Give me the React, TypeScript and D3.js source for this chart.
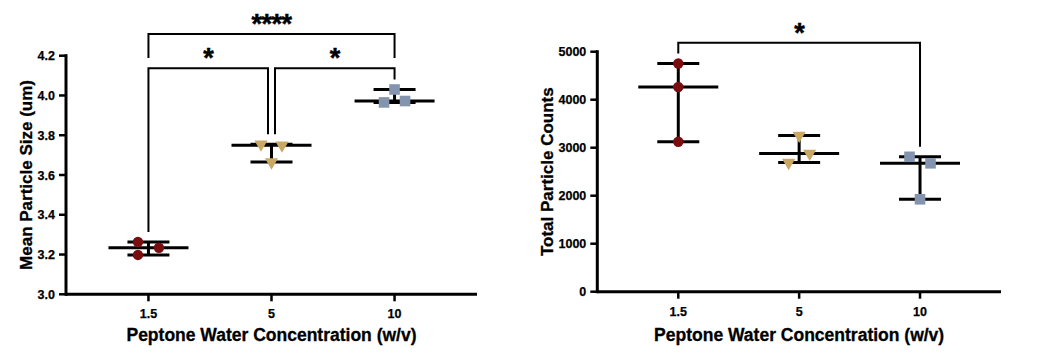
import React from "react";
import * as d3 from "d3";

// ---------- data ----------
const categories = ["1.5", "5", "10"];

// Mean particle size (um), three replicates per concentration
const sizeValues: number[][] = [
  [3.263, 3.198, 3.234],
  [3.755, 3.75, 3.665],
  [4.03, 3.965, 3.972],
];
// horizontal dodge of each replicate, in marker widths
const sizeDodge: number[][] = [
  [-1, -1, 1],
  [-1, 1, 0],
  [0, -1, 1],
];

// Total particle counts
const countValues: number[][] = [
  [4755, 4265, 3125],
  [3255, 2880, 2690],
  [2810, 2675, 1925],
];
const countDodge: number[][] = [
  [0, 0, 0],
  [0, 1, -1],
  [-1, 1, 0],
];

const sizeTicks = [3.0, 3.2, 3.4, 3.6, 3.8, 4.0, 4.2];
const countTicks = [0, 1000, 2000, 3000, 4000, 5000];

// significance comparisons: [from index, to index, label, tier]
const sizeComparisons: [number, number, string, number][] = [
  [0, 2, "****", 1],
  [0, 1, "*", 0],
  [1, 2, "*", 0],
];
const countComparisons: [number, number, string, number][] = [[0, 2, "*", 0]];

const groupColors = ["#7a0d0f", "#c9a864", "#8494ae"];
const groupShapes = ["circle", "triangle", "square"];

const FONT = "'Liberation Sans', Arial, sans-serif";

type PanelProps = {
  values: number[][];
  dodge: number[][];
  ticks: number[];
  yDomain: [number, number];
  tickFormat: (v: number) => string;
  comparisons: [number, number, string, number][];
  x0: number;
  x1: number;
  yTop: number;
  yBottom: number;
  yTitle: string;
  yTitleX: number;
  bracketY: number[];
};

function Marker({ shape, cx, cy, color }: { shape: string; cx: number; cy: number; color: string }) {
  if (shape === "circle") return <circle cx={cx} cy={cy} r={5.2} fill={color} />;
  if (shape === "square") return <rect x={cx - 5.3} y={cy - 5.3} width={10.6} height={10.6} fill={color} />;
  const sym = d3.symbol(d3.symbolTriangle, 75)();
  return <path d={sym as string} transform={`translate(${cx},${cy}) rotate(180)`} fill={color} />;
}

function Panel(p: PanelProps) {
  const x = d3.scalePoint<string>().domain(categories).range([p.x0, p.x1]).padding(0.67);
  const y = d3.scaleLinear().domain(p.yDomain).range([p.yBottom, p.yTop]);
  const center = (p.x0 + p.x1) / 2;
  const medW = 40;
  const capW = 21;
  const dodgeStep = 10.5;

  const stats = p.values.map((vals) => ({
    med: d3.median(vals) as number,
    min: d3.min(vals) as number,
    max: d3.max(vals) as number,
  }));

  return (
    <g>
      {/* y axis */}
      <line x1={p.x0} x2={p.x0} y1={p.yTop - 1.5} y2={p.yBottom + 1.5} stroke="#000" strokeWidth={3} />
      {p.ticks.map((t) => (
        <g key={t}>
          <line x1={p.x0 - 7} x2={p.x0} y1={y(t)} y2={y(t)} stroke="#000" strokeWidth={2.5} />
          <text
            x={p.x0 - 11}
            y={y(t)}
            dy="0.36em"
            textAnchor="end"
            fontFamily={FONT}
            fontWeight="bold"
            fontSize={12.5}
            stroke="#000"
            strokeWidth={0.25}
          >
            {p.tickFormat(t)}
          </text>
        </g>
      ))}
      {/* x axis */}
      <line x1={p.x0} x2={p.x1} y1={p.yBottom} y2={p.yBottom} stroke="#000" strokeWidth={3} />
      {categories.map((c) => (
        <g key={c}>
          <line x1={x(c)} x2={x(c)} y1={p.yBottom} y2={p.yBottom + 7} stroke="#000" strokeWidth={2.5} />
          <text
            x={x(c)}
            y={p.yBottom + 24}
            textAnchor="middle"
            fontFamily={FONT}
            fontWeight="bold"
            fontSize={12.5}
            stroke="#000"
            strokeWidth={0.25}
          >
            {c}
          </text>
        </g>
      ))}
      {/* titles */}
      <text
        x={center}
        y={341}
        textAnchor="middle"
        fontFamily={FONT}
        fontWeight="bold"
        fontSize={17.5}
        stroke="#000"
        strokeWidth={0.3}
      >
        Peptone Water Concentration (w/v)
      </text>
      <text
        transform={`translate(${p.yTitleX},${(p.yTop + p.yBottom) / 2}) rotate(-90)`}
        textAnchor="middle"
        fontFamily={FONT}
        fontWeight="bold"
        fontSize={17}
        stroke="#000"
        strokeWidth={0.3}
      >
        {p.yTitle}
      </text>
      {/* range bars with median */}
      {stats.map((s, i) => {
        const cx = x(categories[i]) as number;
        return (
          <g key={i} stroke="#000" strokeWidth={3}>
            <line x1={cx} x2={cx} y1={y(s.min)} y2={y(s.max)} />
            <line x1={cx - capW} x2={cx + capW} y1={y(s.min)} y2={y(s.min)} />
            <line x1={cx - capW} x2={cx + capW} y1={y(s.max)} y2={y(s.max)} />
            <line x1={cx - medW} x2={cx + medW} y1={y(s.med)} y2={y(s.med)} />
          </g>
        );
      })}
      {/* replicate markers */}
      {p.values.map((vals, i) =>
        vals.map((v, j) => (
          <Marker
            key={`${i}-${j}`}
            shape={groupShapes[i]}
            cx={(x(categories[i]) as number) + p.dodge[i][j] * dodgeStep}
            cy={y(v)}
            color={groupColors[i]}
          />
        ))
      )}
      {/* significance brackets */}
      {p.comparisons.map(([a, b, label, tier], k) => {
        const by = p.bracketY[tier];
        const xa = (x(categories[a]) as number) + (tier === 0 && p.comparisons.some((c) => c[3] === 0 && c[1] === a) ? 3.5 : 0);
        const xb = (x(categories[b]) as number) - (tier === 0 && p.comparisons.some((c) => c[3] === 0 && c[0] === b) ? 3.5 : 0);
        const legA = tier > 0 ? by + 24 : y(stats[a].max) - 10;
        const legB = tier > 0 ? by + 24 : y(stats[b].max) - 10;
        return (
          <g key={k}>
            <path
              d={`M${xa},${legA}V${by}H${xb}V${legB}`}
              fill="none"
              stroke="#000"
              strokeWidth={2}
            />
            <text
              x={(xa + xb) / 2}
              y={by - 1}
              textAnchor="middle"
              fontFamily={FONT}
              fontWeight="bold"
              fontSize={27}
              letterSpacing={-0.5}
              stroke="#000"
              strokeWidth={0.5}
            >
              {label}
            </text>
          </g>
        );
      })}
    </g>
  );
}

export default function App() {
  return (
    <svg
      width={1053}
      height={360}
      style={{ position: "absolute", left: 0, top: 0, background: "#fff" }}
    >
      <rect width={1053} height={360} fill="#fff" />
      <Panel
        values={sizeValues}
        dodge={sizeDodge}
        ticks={sizeTicks}
        yDomain={[3.0, 4.2]}
        tickFormat={d3.format(".1f")}
        comparisons={sizeComparisons}
        x0={66}
        x1={477}
        yTop={55.7}
        yBottom={294.3}
        yTitle="Mean Particle Size (um)"
        yTitleX={32}
        bracketY={[68.3, 34]}
      />
      <Panel
        values={countValues}
        dodge={countDodge}
        ticks={countTicks}
        yDomain={[0, 5000]}
        tickFormat={d3.format("d")}
        comparisons={countComparisons}
        x0={597.3}
        x1={1001}
        yTop={51.7}
        yBottom={291.7}
        yTitle="Total Particle Counts"
        yTitleX={553}
        bracketY={[42.7]}
      />
    </svg>
  );
}
